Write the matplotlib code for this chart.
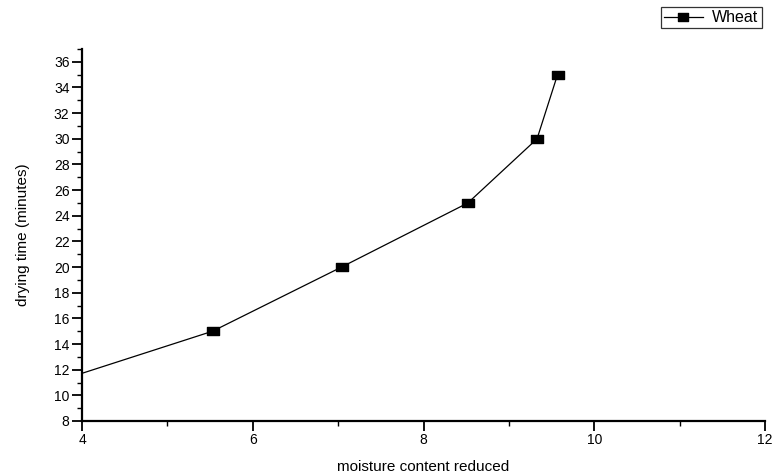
import matplotlib
matplotlib.use('Agg')
import matplotlib.pyplot as plt
from matplotlib.ticker import MultipleLocator
from matplotlib.path import Path

plt.rcParams['font.family'] = ['Liberation Sans', 'DejaVu Sans']

# moisture content reduced vs drying time, wheat
moisture = [3.2, 5.53, 7.04, 8.52, 9.33, 9.57]
drying_time = [10, 15, 20, 25, 30, 35]

fig = plt.figure(figsize=(7.78, 4.75), dpi=100)
ax = fig.add_axes([0.1054, 0.1137, 0.8779, 0.7831])

# wide rectangular marker like the original
rect = Path([(-1.4, -1), (1.4, -1), (1.4, 1), (-1.4, 1), (-1.4, -1)],
            [Path.MOVETO, Path.LINETO, Path.LINETO, Path.LINETO, Path.CLOSEPOLY])
ax.plot(moisture, drying_time, color='black', lw=0.9, marker=rect, ms=9,
        mfc='black', mec='black', label='Wheat')

ax.set_xlim(4, 12)
ax.set_ylim(8, 37)
ax.xaxis.set_major_locator(MultipleLocator(2))
ax.xaxis.set_minor_locator(MultipleLocator(1))
ax.yaxis.set_major_locator(MultipleLocator(2))
ax.yaxis.set_minor_locator(MultipleLocator(1))

for s in ['top', 'right']:
    ax.spines[s].set_visible(False)
for s in ['left', 'bottom']:
    ax.spines[s].set_linewidth(1.6)

ax.tick_params(which='major', direction='out', length=7, width=1.3, labelsize=10, pad=2)
ax.tick_params(which='minor', direction='out', length=3.5, width=1.0)

ax.set_xlabel('moisture content reduced', fontsize=11, labelpad=9)
ax.set_ylabel('drying time (minutes)', fontsize=11, labelpad=17)

leg = fig.legend(loc='upper left', bbox_to_anchor=(661 / 778, 1 - 7 / 475),
                 frameon=True, fancybox=False, fontsize=11.5, borderaxespad=0,
                 handlelength=2.4, borderpad=0.2, handletextpad=0.6, markerscale=0.8)
leg.get_frame().set_edgecolor('black')
leg.get_frame().set_linewidth(0.9)

fig.savefig('out.png', dpi=100)
